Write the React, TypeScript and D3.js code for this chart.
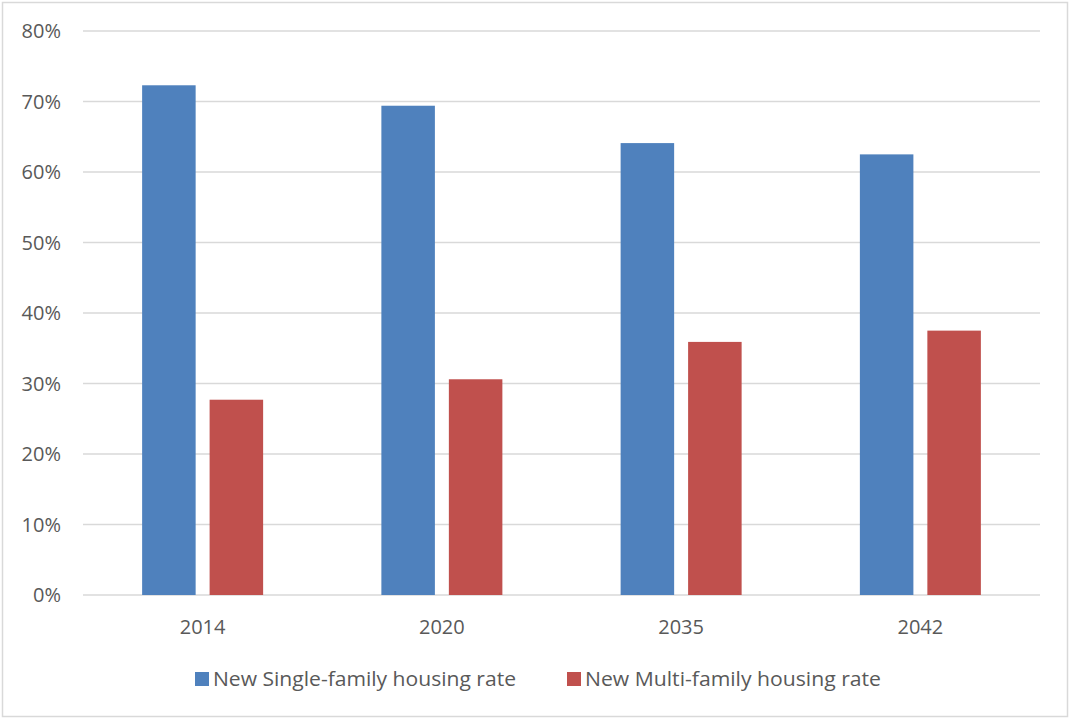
import React from "react";
import * as d3 from "d3";

const categories = ["2014", "2020", "2035", "2042"];
const singleFamily = [0.723, 0.694, 0.641, 0.625];
const multiFamily = [0.277, 0.306, 0.359, 0.375];
const seriesNames = ["New Single-family housing rate", "New Multi-family housing rate"];
const seriesColors = ["#4F81BD", "#C0504D"];
const yTicks = [0, 0.1, 0.2, 0.3, 0.4, 0.5, 0.6, 0.7, 0.8];

export default function App() {
  const W = 1069, H = 719;
  const left = 83, right = 1040, top = 31, bottom = 595;
  const x = d3.scaleBand<string>().domain(categories).range([left, right]).paddingInner(0).paddingOuter(0);
  const inner = d3.scaleBand<string>().domain(["0", "1"]).range([-60.5, 60.5]).paddingInner(0.207);
  const y = d3.scaleLinear().domain([0, 0.8]).range([bottom, top]);
  const fmt = d3.format(".0%");
  const font = "'Open Sans', sans-serif";
  const series = [singleFamily, multiFamily];
  const legendX = [195, 567];
  const legendLen = [303, 296];
  return (
    <svg width={W} height={H} style={{ position: "absolute", left: 0, top: 0 }}>
      <rect x={0} y={0} width={W} height={H} fill="#fff" />
      <rect x={2.5} y={2.5} width={1065} height={714} fill="none" stroke="#D9D9D9" strokeWidth={1.5} />
      {yTicks.map((t) => (
        <g key={t}>
          <line x1={left} x2={right} y1={y(t)} y2={y(t)} stroke="#D9D9D9" strokeWidth={1.5} />
          <text x={61} y={y(t)} dy="0.35em" textAnchor="end" fontFamily={font} fontSize={20} fill="#595959">{fmt(t)}</text>
        </g>
      ))}
      {categories.map((c, i) => {
        const cx = (x(c) as number) + x.bandwidth() / 2;
        return (
          <g key={c}>
            {series.map((s, k) => (
              <rect key={k} x={cx + (inner(String(k)) as number)} width={inner.bandwidth()} y={y(s[i])} height={y(0) - y(s[i])} fill={seriesColors[k]} />
            ))}
            <text x={cx} y={627} textAnchor="middle" dy="0.35em" fontFamily={font} fontSize={20} fill="#595959">{c}</text>
          </g>
        );
      })}
      {seriesNames.map((n, k) => (
        <g key={n}>
          <rect x={legendX[k]} y={672} width={14} height={14} fill={seriesColors[k]} />
          <text x={legendX[k] + 18} y={679} dy="0.35em" fontFamily={font} fontSize={20} textLength={legendLen[k]} lengthAdjust="spacingAndGlyphs" fill="#595959">{n}</text>
        </g>
      ))}
    </svg>
  );
}
